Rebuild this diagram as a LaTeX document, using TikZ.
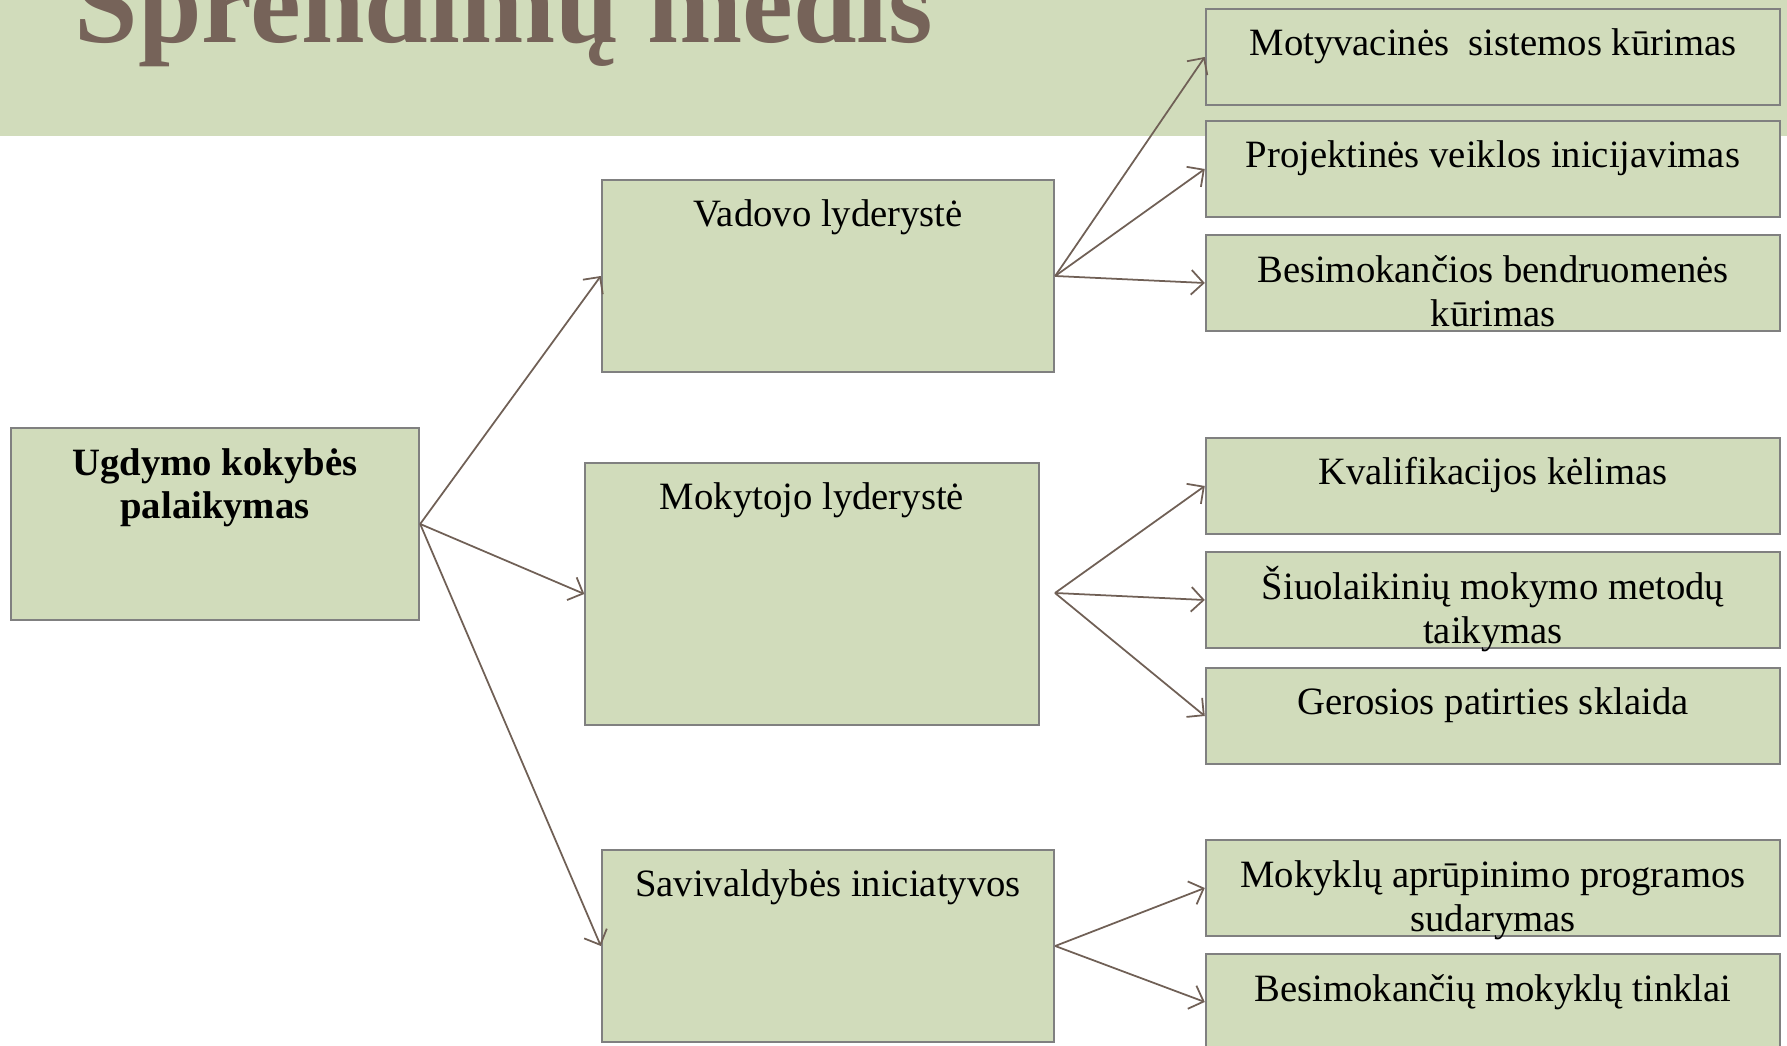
\documentclass[tikz,border=0pt]{standalone}
\usepackage{fontspec}
\setmainfont{Liberation Serif}
\usepackage{tikz}
\usetikzlibrary{arrows.meta}

\definecolor{bandgreen}{RGB}{209,220,187}
\definecolor{boxline}{RGB}{128,128,128}
\definecolor{arrowbrown}{RGB}{112,96,86}
\definecolor{titlebrown}{RGB}{118,99,89}

\begin{document}
\begin{tikzpicture}[x=0.01cm,y=-0.01cm]
\tikzstyle{mybox}=[draw=boxline,fill=bandgreen,line width=0.6pt,inner xsep=0pt,inner ysep=0pt,align=center,text height=0.47cm,font=\fontsize{11}{12.5}\selectfont];
\tikzstyle{twolines}=[text height=0.91cm]; % baseline of 2nd line
\tikzstyle{myarrow}=[draw=arrowbrown,line width=0.5pt,-{Straight Barb[length=3.5pt,width=7pt]}];

\useasboundingbox (0,0) rectangle (1787,1046);

\fill[bandgreen] (0,0) rectangle (1787,136); % title band
\node[anchor=base west,inner sep=0pt,text=titlebrown,font=\fontsize{32.5}{36}\selectfont\bfseries] (title) at (74,43) {Sprendimų medis};

\def \midw{4.52cm};
\def \midd{1.45cm};
\def \rightw{5.74cm};
\def \rightd{0.49cm};

% left and middle column
\node[mybox,twolines,minimum width=4.08cm,text depth=1.01cm,font=\fontsize{11}{12.5}\selectfont\bfseries] (root) at (215,524) {Ugdymo kokybės\\palaikymas};
\node[mybox,minimum width=\midw,text depth=\midd] (vad) at (828,276) {Vadovo lyderystė};
\node[mybox,minimum width=4.53cm,text depth=2.15cm] (mok) at (812,594) {Mokytojo lyderystė};
\node[mybox,minimum width=\midw,text depth=\midd] (sav) at (828,946) {Savivaldybės iniciatyvos};

% right column
\node[mybox,minimum width=\rightw,text depth=\rightd] (motyv) at (1493,57) {Motyvacinės\ \ sistemos kūrimas};
\node[mybox,minimum width=\rightw,text depth=\rightd] (proj) at (1493,169) {Projektinės veiklos inicijavimas};
\node[mybox,twolines,minimum width=\rightw,text depth=0.05cm] (besi) at (1493,283) {Besimokančios bendruomenės\\kūrimas};
\node[mybox,minimum width=\rightw,text depth=\rightd] (kval) at (1493,486) {Kvalifikacijos kėlimas};
\node[mybox,twolines,minimum width=\rightw,text depth=0.05cm] (siuol) at (1493,600) {Šiuolaikinių mokymo metodų\\taikymas};
\node[mybox,minimum width=\rightw,text depth=\rightd] (geros) at (1493,716) {Gerosios patirties sklaida};
\node[mybox,twolines,minimum width=\rightw,text depth=0.05cm] (mokap) at (1493,888) {Mokyklų aprūpinimo programos\\sudarymas};
\node[mybox,minimum width=\rightw,text depth=\rightd] (tink) at (1493,1002) {Besimokančių mokyklų tinklai};

\coordinate (mfork) at (1055,593); % fork right of mok

\draw[myarrow] (root.east) -- (vad.west);
\draw[myarrow] (root.east) -- (mok.west);
\draw[myarrow] (root.east) -- (sav.west);

\draw[myarrow] (vad.east) -- (motyv.west);
\draw[myarrow] (vad.east) -- (proj.west);
\draw[myarrow] (vad.east) -- (besi.west);

\draw[myarrow] (mfork) -- (kval.west);
\draw[myarrow] (mfork) -- (siuol.west);
\draw[myarrow] (mfork) -- (geros.west);

\draw[myarrow] (sav.east) -- (mokap.west);
\draw[myarrow] (sav.east) -- (tink.west);

\end{tikzpicture}
\end{document}
